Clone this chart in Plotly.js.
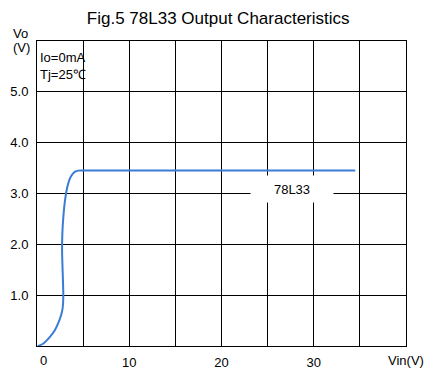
<!DOCTYPE html>
<html>
<head>
<meta charset="utf-8">
<script src="https://cdn.plot.ly/plotly-3.0.1.min.js"></script>
<style>html,body{margin:0;padding:0;background:#fff;}#chart{width:427px;height:372px;}</style>
</head>
<body>
<div id="chart"></div>
<script>
var vin  = [0.1, 0.7, 1.4, 1.9, 2.3, 2.6, 2.75, 2.83, 2.85, 2.8, 2.74, 2.72, 2.75, 2.86, 3.04, 3.3, 3.66, 4.13, 4.5, 5.5, 34.5];
var vout = [0.0, 0.05, 0.18, 0.3, 0.45, 0.6, 0.71, 0.85, 1.04, 1.36, 1.7, 1.89, 2.22, 2.55, 2.87, 3.14, 3.33, 3.43, 3.45, 3.45, 3.45];
var xTicks = [0, 5, 10, 15, 20, 25, 30, 35, 40];
var xTickText = ['', '', '10', '', '20', '', '30', '', ''];
var yTicks = [0, 1, 2, 3, 4, 5, 6];
var yTickText = ['', '1.0', '2.0', '3.0', '4.0', '5.0', ''];
var seriesName = '78L33';

var font = 'Liberation Sans, Arial, sans-serif';
var trace = {
  x: vin, y: vout, type: 'scatter', mode: 'lines', name: seriesName,
  line: {color: '#3a7bd5', width: 2, shape: 'spline', smoothing: 0.6},
  hoverinfo: 'skip'
};
var layout = {
  width: 427, height: 372,
  margin: {l: 37, r: 21, t: 41, b: 26},
  paper_bgcolor: '#fff', plot_bgcolor: '#fff',
  showlegend: false,
  font: {family: font, size: 13, color: '#000'},
  title: {text: 'Fig.5 78L33 Output Characteristics', font: {family: font, size: 17, color: '#000'}, x: 0.511, xanchor: 'center', y: 0.952, yanchor: 'middle'},
  xaxis: {range: [0, 40], tickvals: xTicks, ticktext: xTickText, showgrid: true, gridcolor: '#000', gridwidth: 1,
          showline: true, linecolor: '#000', linewidth: 1, mirror: true, zeroline: false, ticks: '', ticklabelstandoff: 4,
          tickfont: {family: font, size: 13}},
  yaxis: {range: [0, 6], tickvals: yTicks, ticktext: yTickText, showgrid: true, gridcolor: '#000', gridwidth: 1,
          showline: true, linecolor: '#000', linewidth: 1, mirror: true, zeroline: false, ticks: '', ticklabelstandoff: 5,
          tickfont: {family: font, size: 13}},
  annotations: [
    {text: '0', x: 0, y: 0, xref: 'x', yref: 'y', yanchor: 'top', xanchor: 'center', xshift: 6, yshift: -5, showarrow: false, font: {size: 13}},
    {text: 'Vin(V)', x: 1, y: 0, xref: 'paper', yref: 'paper', yanchor: 'top', xanchor: 'center', yshift: -5, showarrow: false, font: {size: 13}},
    {text: 'Vo', x: 0, y: 1, xref: 'paper', yref: 'paper', xanchor: 'center', yanchor: 'middle', xshift: -17, yshift: 8, showarrow: false, font: {size: 13}},
    {text: '(V)', x: 0, y: 1, xref: 'paper', yref: 'paper', xanchor: 'center', yanchor: 'middle', xshift: -16, yshift: -6, showarrow: false, font: {size: 13}},
    {text: 'Io=0mA', x: 0, y: 1, xref: 'paper', yref: 'paper', xanchor: 'left', yanchor: 'middle', xshift: 1, yshift: -16, showarrow: false, font: {size: 13}},
    {text: 'Tj=25℃', x: 0, y: 1, xref: 'paper', yref: 'paper', xanchor: 'left', yanchor: 'middle', xshift: 1, yshift: -33, showarrow: false, font: {size: 13}},
    {text: seriesName, x: 27.6, y: 3.08, xref: 'x', yref: 'y', xanchor: 'center', yanchor: 'middle', showarrow: false,
     bgcolor: '#fff', width: 80, height: 24, font: {size: 13}}
  ]
};
Plotly.newPlot('chart', [trace], layout, {displayModeBar: false, staticPlot: true});
</script>
</body>
</html>
